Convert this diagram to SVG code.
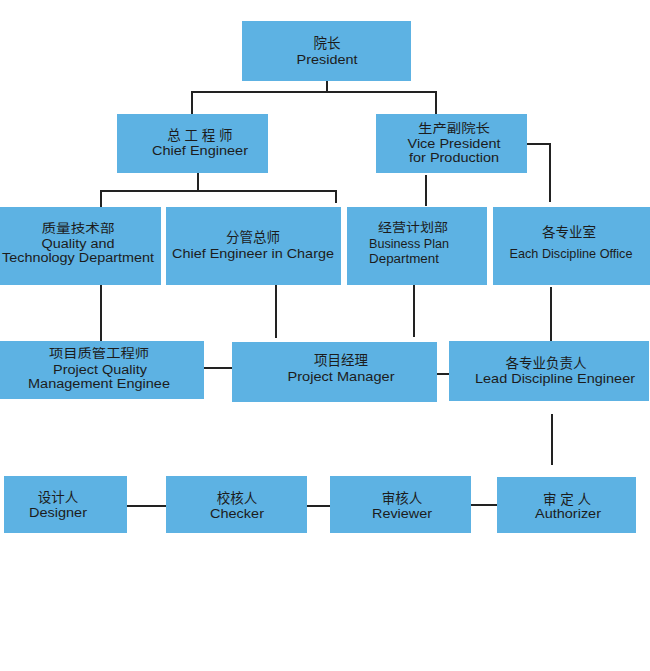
<svg xmlns="http://www.w3.org/2000/svg" width="650" height="671" viewBox="0 0 650 671">
<style>
.box{fill:#5DB2E3;}
.t{font-family:"Liberation Sans","Noto Sans CJK SC",sans-serif;font-size:13.5px;fill:#1c1c1c;text-anchor:middle;}
.s{font-size:12.5px;}
.l{text-anchor:start;}
.c{stroke:#222;stroke-width:2;fill:none;}
</style>
<rect width="650" height="671" fill="#fff"/>
<g id="connectors">
<path class="c" d="M327 81V92M192 114V92H436V114"/>
<path class="c" d="M527 144H550V202"/>
<path class="c" d="M198 173V191M101 207V191H336V203"/>
<path class="c" d="M426 175V206"/>
<path class="c" d="M101 285V342M276 285V338M414 285V337M551 287V342"/>
<path class="c" d="M204 368H232M437 374H449"/>
<path class="c" d="M552 414V465"/>
<path class="c" d="M127 506H166M307 506H330M471 505H497"/>
</g>
<g id="president"><rect class="box" x="242" y="21" width="169" height="60"/><text class="t" x="327" y="48">院长</text><text class="t" x="327" y="64" textLength="61" lengthAdjust="spacingAndGlyphs">President</text></g>
<g id="chief-engineer"><rect class="box" x="117" y="114" width="151" height="59"/><text class="t" x="200" y="140">总 工 程 师</text><text class="t" x="200" y="155" textLength="96" lengthAdjust="spacingAndGlyphs">Chief Engineer</text></g>
<g id="vice-president"><rect class="box" x="376" y="114" width="151" height="59"/><text class="t s" x="454" y="133" textLength="72" lengthAdjust="spacingAndGlyphs">生产副院长</text><text class="t s" x="454" y="147.5" textLength="93" lengthAdjust="spacingAndGlyphs">Vice President</text><text class="t s" x="454" y="162" textLength="90" lengthAdjust="spacingAndGlyphs">for Production</text></g>
<g id="quality-tech"><rect class="box" x="0" y="207" width="161" height="78"/><text class="t s" x="78" y="233" textLength="73" lengthAdjust="spacingAndGlyphs">质量技术部</text><text class="t s" x="78" y="247.5" textLength="73" lengthAdjust="spacingAndGlyphs">Quality and</text><text class="t s" x="78" y="262" textLength="152" lengthAdjust="spacingAndGlyphs">Technology Department</text></g>
<g id="chief-in-charge"><rect class="box" x="166" y="207" width="175" height="78"/><text class="t" x="253" y="242">分管总师</text><text class="t" x="253" y="258" textLength="162" lengthAdjust="spacingAndGlyphs">Chief Engineer in Charge</text></g>
<g id="business-plan"><rect class="box" x="347" y="207" width="140" height="78"/><text class="t s" x="413" y="232" textLength="70" lengthAdjust="spacingAndGlyphs">经营计划部</text><text class="t l s" x="369" y="248" textLength="80" lengthAdjust="spacingAndGlyphs">Business Plan</text><text class="t l s" x="369" y="263" textLength="70" lengthAdjust="spacingAndGlyphs">Department</text></g>
<g id="discipline-office"><rect class="box" x="493" y="207" width="157" height="78"/><text class="t" x="569" y="237">各专业室</text><text class="t" x="571" y="258" textLength="123" lengthAdjust="spacingAndGlyphs">Each Discipline Office</text></g>
<g id="pq-engineer"><rect class="box" x="0" y="341" width="204" height="58"/><text class="t s" x="99" y="358" textLength="100" lengthAdjust="spacingAndGlyphs">项目质管工程师</text><text class="t s" x="100" y="373.5" textLength="94" lengthAdjust="spacingAndGlyphs">Project Quality</text><text class="t s" x="99" y="388" textLength="142" lengthAdjust="spacingAndGlyphs">Management Enginee</text></g>
<g id="project-manager"><rect class="box" x="232" y="342" width="205" height="60"/><text class="t" x="341" y="365">项目经理</text><text class="t" x="341" y="381" textLength="107" lengthAdjust="spacingAndGlyphs">Project Manager</text></g>
<g id="lead-engineer"><rect class="box" x="449" y="341" width="200" height="60"/><text class="t" x="546" y="368">各专业负责人</text><text class="t" x="555" y="383" textLength="160" lengthAdjust="spacingAndGlyphs">Lead Discipline Engineer</text></g>
<g id="designer"><rect class="box" x="4" y="476" width="123" height="57"/><text class="t" x="58" y="502">设计人</text><text class="t" x="58" y="517" textLength="58" lengthAdjust="spacingAndGlyphs">Designer</text></g>
<g id="checker"><rect class="box" x="166" y="476" width="141" height="57"/><text class="t" x="237" y="503">校核人</text><text class="t" x="237" y="518" textLength="54" lengthAdjust="spacingAndGlyphs">Checker</text></g>
<g id="reviewer"><rect class="box" x="330" y="476" width="141" height="57"/><text class="t" x="402" y="503">审核人</text><text class="t" x="402" y="518" textLength="60" lengthAdjust="spacingAndGlyphs">Reviewer</text></g>
<g id="authorizer"><rect class="box" x="497" y="477" width="139" height="56"/><text class="t" x="567" y="504">审 定 人</text><text class="t" x="568" y="518" textLength="66" lengthAdjust="spacingAndGlyphs">Authorizer</text></g>
</svg>
